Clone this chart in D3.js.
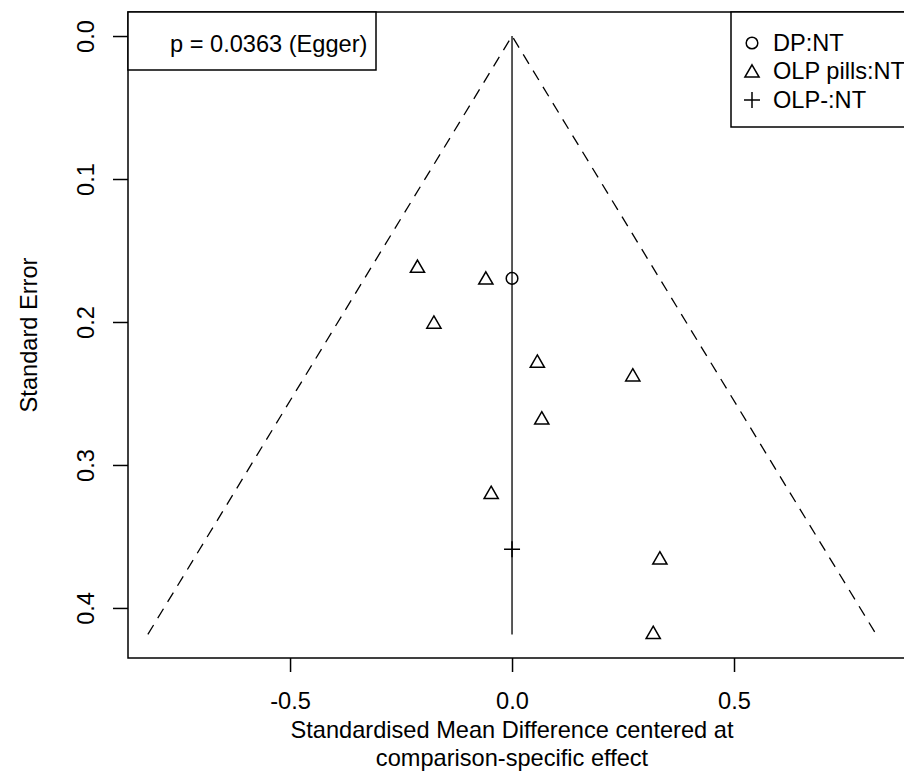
<!DOCTYPE html>
<html>
<head>
<meta charset="utf-8">
<script src="https://cdn.jsdelivr.net/npm/d3@7"></script>
<style>
  body { margin: 0; background: #fff; }
  svg text { font-family: "Liberation Sans", Arial, sans-serif; fill: #000; }
</style>
</head>
<body>
<div id="chart"></div>
<script>
// centered effects (SMD) and their standard errors
var comparisons = ['DP:NT', 'OLP pills:NT', 'OLP-:NT'];
var studyComparison = ['DP:NT', 'OLP pills:NT', 'OLP pills:NT', 'OLP pills:NT', 'OLP pills:NT',
    'OLP pills:NT', 'OLP pills:NT', 'OLP pills:NT', 'OLP pills:NT', 'OLP pills:NT', 'OLP-:NT'];
var studyEffect = [0.000, -0.213, -0.059, -0.176, 0.057, 0.272, 0.067, -0.047, 0.333, 0.318, 0.000];
var studySE = [0.1695, 0.1624, 0.1706, 0.2015, 0.2288, 0.2384, 0.2685, 0.3206, 0.3664, 0.4185, 0.359];
var xTicks = [-0.5, 0, 0.5];
var yTicks = [0, 0.1, 0.2, 0.3, 0.4];
var eggerLabel = 'p = 0.0363 (Egger)';

var width = 904, height = 774;
var svg = d3.select('#chart').append('svg')
    .attr('width', width)
    .attr('height', height);

var x = d3.scaleLinear().domain([-0.865, 0.9]).range([128, 911.6]);
var y = d3.scaleLinear().domain([-0.0168, 0.435]).range([12, 658]);

var font = 23.6;
var maxSE = d3.max(studySE);

// plot box
svg.append('rect')
    .attr('x', x.range()[0]).attr('y', y.range()[0])
    .attr('width', x.range()[1] - x.range()[0])
    .attr('height', y.range()[1] - y.range()[0])
    .attr('fill', 'none').attr('stroke', '#000').attr('stroke-width', 1.5);

// funnel
var funnel = [[-1.96 * maxSE, maxSE], [0, 0], [1.96 * maxSE, maxSE]];
svg.append('path')
    .attr('d', d3.line().x(function(d) { return x(d[0]); }).y(function(d) { return y(d[1]); })(funnel))
    .attr('fill', 'none').attr('stroke', '#000').attr('stroke-width', 1.3)
    .attr('stroke-dasharray', '11,8');

svg.append('line')
    .attr('x1', x(0)).attr('x2', x(0))
    .attr('y1', y(0)).attr('y2', y(maxSE))
    .attr('stroke', '#222').attr('stroke-width', 1.5);

// x axis
var xAxis = svg.append('g').attr('transform', 'translate(0,' + y.range()[1] + ')')
    .call(d3.axisBottom(x).tickValues(xTicks).tickSize(14).tickPadding(20)
        .tickFormat(function(d) { return d === 0 ? '0.0' : d3.format('.1f')(d).replace('−', '-'); }));
xAxis.select('.domain').remove();
xAxis.selectAll('line').attr('stroke', '#000').attr('stroke-width', 1.5);
xAxis.selectAll('text').attr('font-size', font).attr('dy', '0.71em');

// y axis
var yAxis = svg.append('g').attr('transform', 'translate(' + x.range()[0] + ',0)')
    .call(d3.axisLeft(y).tickValues(yTicks).tickSize(15).tickFormat(d3.format('.1f')));
yAxis.select('.domain').remove();
yAxis.selectAll('line').attr('stroke', '#000').attr('stroke-width', 1.5);
yAxis.selectAll('text').remove();
yAxis.selectAll('.tick').append('text')
    .attr('transform', 'translate(-34,0) rotate(-90)')
    .attr('text-anchor', 'middle')
    .attr('font-size', font)
    .text(function(d) { return d3.format('.1f')(d); });

// axis titles
svg.append('text')
    .attr('x', x(0)).attr('y', 738)
    .attr('text-anchor', 'middle').attr('font-size', font)
    .text('Standardised Mean Difference centered at');
svg.append('text')
    .attr('x', x(0)).attr('y', 766)
    .attr('text-anchor', 'middle').attr('font-size', font)
    .text('comparison-specific effect');
svg.append('text')
    .attr('transform', 'translate(37,' + ((y.range()[0] + y.range()[1]) / 2) + ') rotate(-90)')
    .attr('text-anchor', 'middle').attr('font-size', font)
    .text('Standard Error');

// symbols, R pch 1 / 2 / 3
function symbolPath(comp, cx, cy) {
    if (comp === 'DP:NT') {
        var r = 5.8;
        return 'M' + (cx + r) + ',' + cy + 'A' + r + ',' + r + ' 0 1,1 ' + (cx - r) + ',' + cy +
            'A' + r + ',' + r + ' 0 1,1 ' + (cx + r) + ',' + cy;
    }
    if (comp === 'OLP pills:NT') {
        var h = 12.3, w = 14.2;
        return 'M' + cx + ',' + (cy - h * 2 / 3) + 'L' + (cx + w / 2) + ',' + (cy + h / 3) +
            'L' + (cx - w / 2) + ',' + (cy + h / 3) + 'Z';
    }
    var p = 8;
    return 'M' + (cx - p) + ',' + cy + 'H' + (cx + p) + 'M' + cx + ',' + (cy - p) + 'V' + (cy + p);
}

svg.append('g').selectAll('path')
    .data(studyEffect)
    .enter().append('path')
    .attr('d', function(d, i) { return symbolPath(studyComparison[i], x(d), y(studySE[i])); })
    .attr('fill', 'none').attr('stroke', '#000').attr('stroke-width', 1.5);

// Egger box
svg.append('rect')
    .attr('x', x.range()[0]).attr('y', y.range()[0])
    .attr('width', 376 - x.range()[0]).attr('height', 58)
    .attr('fill', '#fff').attr('stroke', '#000').attr('stroke-width', 1.5);
svg.append('text')
    .attr('x', 170).attr('y', 51.5).attr('font-size', font)
    .text(eggerLabel);

// legend
var legend = svg.append('g');
legend.append('rect')
    .attr('x', 731).attr('y', y.range()[0])
    .attr('width', 200).attr('height', 115)
    .attr('fill', '#fff').attr('stroke', '#000').attr('stroke-width', 1.5);
comparisons.forEach(function(c, i) {
    var cy = 43 + i * 28.5;
    legend.append('path')
        .attr('d', symbolPath(c, 752, cy + (i === 1 ? 1.5 : 0)))
        .attr('fill', 'none').attr('stroke', '#000').attr('stroke-width', 1.5);
    legend.append('text')
        .attr('x', 773).attr('y', cy + 7.8).attr('font-size', font)
        .text(c);
});
</script>
</body>
</html>
